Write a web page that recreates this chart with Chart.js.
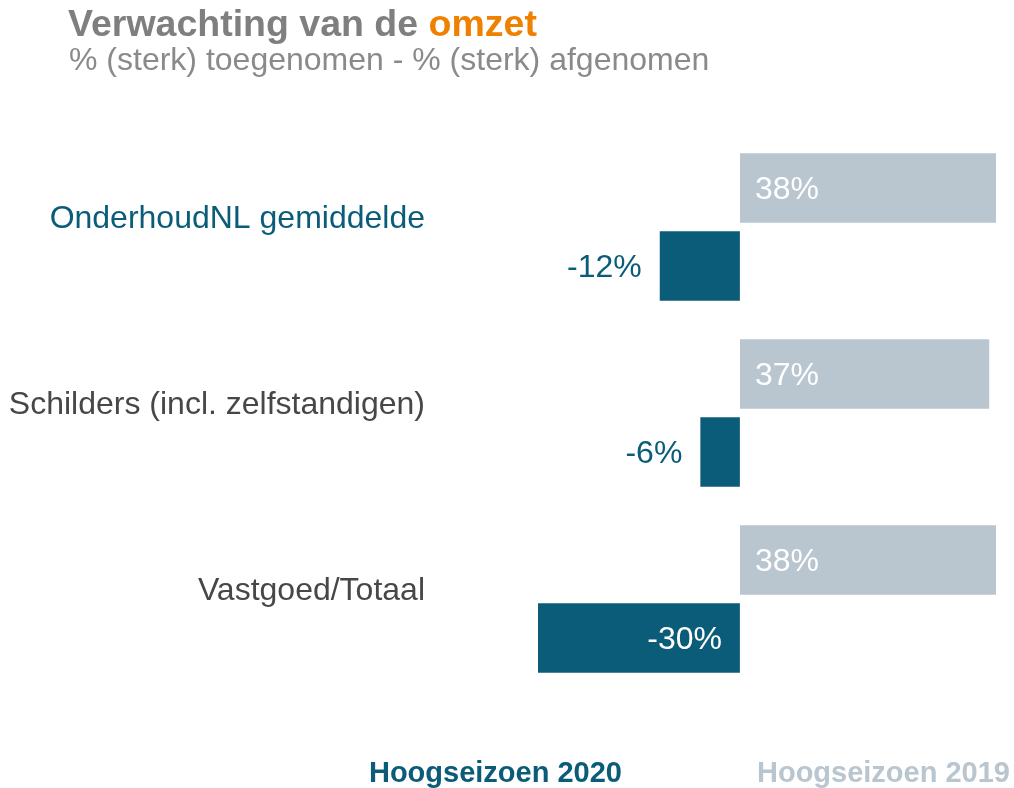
<!DOCTYPE html>
<html>
<head>
<meta charset="utf-8">
<script src="https://cdn.jsdelivr.net/npm/chart.js@4"></script>
<style>
  html, body { margin: 0; padding: 0; background: #fff; }
  canvas { display: block; }
</style>
</head>
<body>
<canvas id="omzetChart" width="1014" height="788"></canvas>
<script>
const categories = ['OnderhoudNL gemiddelde', 'Schilders (incl. zelfstandigen)', 'Vastgoed/Totaal'];
const season2019 = [38, 37, 38];
const season2020 = [-12, -6, -30];
const seriesLabels = ['Hoogseizoen 2019', 'Hoogseizoen 2020'];

const FONT = '"Liberation Sans", Arial, sans-serif';
const TEAL = '#0b5c78';
const GREY_BAR = '#b9c6d0';

// category labels, title, value labels and legend are drawn on the canvas
const extras = {
    id: 'extras',
    afterDatasetsDraw(chart) {
        const ctx = chart.ctx;
        ctx.save();
        chart.data.datasets.forEach((ds, di) => {
            const meta = chart.getDatasetMeta(di);
            meta.data.forEach((bar, i) => {
                const v = ds.data[i];
                const txt = v + '%';
                ctx.font = '32px ' + FONT;
                ctx.textBaseline = 'middle';
                const w = ctx.measureText(txt).width;
                const len = Math.abs(bar.x - bar.base);
                if (v >= 0) {
                    ctx.fillStyle = '#ffffff';
                    ctx.textAlign = 'left';
                    ctx.fillText(txt, bar.base + 15, bar.y + 2);
                } else if (len > w + 40) {
                    ctx.fillStyle = '#ffffff';
                    ctx.textAlign = 'right';
                    ctx.fillText(txt, bar.base - 18, bar.y + 2);
                } else {
                    ctx.fillStyle = TEAL;
                    ctx.textAlign = 'right';
                    ctx.fillText(txt, bar.x - 17, bar.y + 2);
                }
            });
        });

        // category labels
        const yScale = chart.scales.y;
        ctx.font = '32px ' + FONT;
        ctx.textAlign = 'right';
        ctx.textBaseline = 'alphabetic';
        chart.data.labels.forEach((lab, i) => {
            ctx.fillStyle = i === 0 ? TEAL : '#474747';
            ctx.fillText(lab, 425, yScale.getPixelForValue(i) + 1);
        });
        ctx.restore();
    },
    afterDraw(chart) {
        const ctx = chart.ctx;
        ctx.save();
        ctx.textBaseline = 'alphabetic';
        ctx.textAlign = 'left';
        ctx.font = 'bold 37.5px ' + FONT;
        ctx.fillStyle = '#7f7f7f';
        const part1 = 'Verwachting van de ';
        ctx.fillText(part1, 68, 36);
        ctx.fillStyle = '#f08000';
        ctx.fillText('omzet', 68 + ctx.measureText(part1).width, 36);

        ctx.font = '32px ' + FONT;
        ctx.fillStyle = '#8a8a8a';
        ctx.fillText('% (sterk) toegenomen - % (sterk) afgenomen', 69, 70);

        // legend: 2019 right-aligned, 2020 before it
        ctx.font = 'bold 29px ' + FONT;
        let x = 1010;
        chart.data.datasets.forEach(d => {
            const w = ctx.measureText(d.label).width;
            ctx.fillStyle = d.legendColor;
            ctx.fillText(d.label, x - w, 782);
            x = x - w - 135;
        });
        ctx.restore();
    }
};

new Chart(document.getElementById('omzetChart'), {
    type: 'bar',
    data: {
        labels: categories,
        datasets: [
            {
                label: seriesLabels[0],
                data: season2019,
                backgroundColor: GREY_BAR,
                borderColor: 'rgba(255,255,255,0.5)',
                borderWidth: 1,
                legendColor: GREY_BAR
            },
            {
                label: seriesLabels[1],
                data: season2020,
                backgroundColor: TEAL,
                borderColor: 'rgba(255,255,255,0.5)',
                borderWidth: 1,
                legendColor: TEAL
            }
        ]
    },
    options: {
        indexAxis: 'y',
        responsive: false,
        animation: false,
        categoryPercentage: 0.839,
        barPercentage: 0.915,
        layout: { padding: { top: 134, bottom: 96, left: 537, right: 17 } },
        plugins: {
            legend: { display: false },
            tooltip: { enabled: false }
        },
        scales: {
            x: {
                min: -30,
                max: 38,
                display: false
            },
            y: {
                display: false
            }
        }
    },
    plugins: [extras]
});
</script>
</body>
</html>
